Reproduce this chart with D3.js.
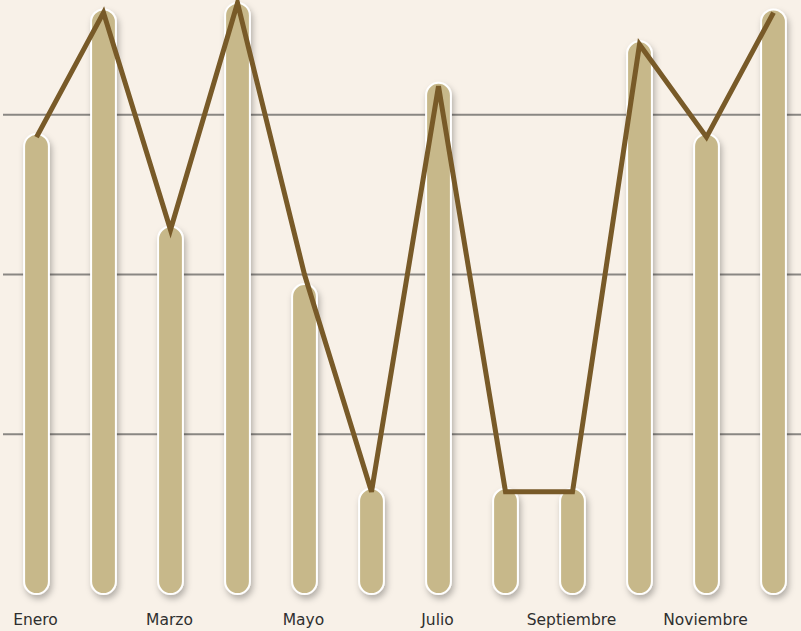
<!DOCTYPE html>
<html lang="es">
<head>
<meta charset="utf-8">
<title>Meses</title>
<style>
  body { margin: 0; padding: 0; background: #f8f1e8; }
  #chart { width: 801px; height: 631px; }
  .tick-label { font-family: 'DejaVu Sans', Inter, sans-serif; font-size: 15.5px; fill: #2f2f2f; }
</style>
</head>
<body>
<div id="chart"></div>
<script src="https://cdnjs.cloudflare.com/ajax/libs/d3/7.8.5/d3.min.js"></script>
<script>
var months = ['Enero', 'Febrero', 'Marzo', 'Abril', 'Mayo', 'Junio',
              'Julio', 'Agosto', 'Septiembre', 'Octubre', 'Noviembre', 'Diciembre'];
var barValues  = [144, 183, 115, 185, 97, 33, 160, 33, 33, 173, 144, 183];
var lineValues = [143, 182, 114, 185, 100, 32, 159, 32, 32, 172, 143, 182];
var gridTicks = [50, 100, 150];
var shownLabels = ['Enero', 'Marzo', 'Mayo', 'Julio', 'Septiembre', 'Noviembre'];

var width = 801, height = 631;

var svg = d3.select('#chart').append('svg')
  .attr('width', width)
  .attr('height', height);

svg.append('rect').attr('width', width).attr('height', height).attr('fill', '#f8f1e8');

var defs = svg.append('defs');
var shadow = defs.append('filter').attr('id', 'shadow')
  .attr('x', '-50%').attr('y', '-10%').attr('width', '200%').attr('height', '130%');
shadow.append('feDropShadow')
  .attr('dx', 2).attr('dy', 4).attr('stdDeviation', 3)
  .attr('flood-color', '#000').attr('flood-opacity', 0.28);

var x = d3.scaleBand()
  .domain(months)
  .range([3, 807])
  .paddingInner(0.63)
  .paddingOuter(0.315);

var y = d3.scaleLinear()
  .domain([0, 185])
  .range([594, 3]);

// gridlines
svg.append('g').selectAll('line')
  .data(gridTicks)
  .enter().append('line')
  .attr('x1', 3).attr('x2', width)
  .attr('y1', function(d) { return y(d); })
  .attr('y2', function(d) { return y(d); })
  .attr('stroke', '#8a8783')
  .attr('stroke-width', 2);

// bars
svg.append('g').selectAll('rect')
  .data(barValues)
  .enter().append('rect')
  .attr('x', function(d, i) { return x(months[i]); })
  .attr('y', function(d) { return y(d); })
  .attr('width', x.bandwidth())
  .attr('height', function(d) { return y(0) - y(d); })
  .attr('rx', x.bandwidth() / 2)
  .attr('ry', x.bandwidth() / 2)
  .attr('fill', '#c7b88a')
  .attr('stroke', '#ffffff')
  .attr('stroke-width', 2)
  .attr('filter', 'url(#shadow)');

// line
var line = d3.line()
  .x(function(d, i) { return x(months[i]) + x.bandwidth() / 2; })
  .y(function(d) { return y(d); });

svg.append('path')
  .datum(lineValues)
  .attr('d', line)
  .attr('fill', 'none')
  .attr('stroke', '#785a28')
  .attr('stroke-width', 5)
  .attr('stroke-linejoin', 'miter');

// month labels (every other one)
svg.append('g').selectAll('text')
  .data(shownLabels)
  .enter().append('text')
  .attr('class', 'tick-label')
  .attr('x', function(d) { return x(d) + x.bandwidth() / 2 - 1; })
  .attr('y', 625)
  .attr('text-anchor', 'middle')
  .text(function(d) { return d; });
</script>
</body>
</html>
